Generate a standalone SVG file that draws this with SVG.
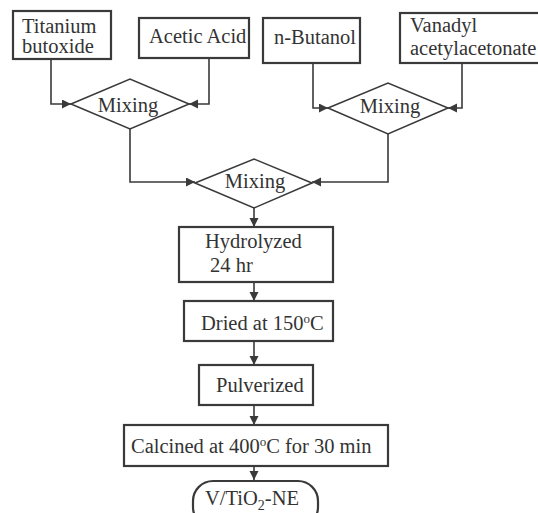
<svg xmlns="http://www.w3.org/2000/svg" width="538" height="513" viewBox="0 0 538 513">
<defs>
<marker id="ah" markerUnits="userSpaceOnUse" markerWidth="10" markerHeight="10" refX="9" refY="4.5" orient="auto">
<path d="M0,0 L9,4.5 L0,9 z" fill="#3a3a3a"/>
</marker>
<style>
.box{fill:#fff;stroke:#3a3a3a;stroke-width:2.2}
.dia{fill:#fff;stroke:#3a3a3a;stroke-width:1.6}
.t{font-family:'Liberation Serif',Tinos,'Times New Roman',Times,'DejaVu Serif',serif;font-size:20.5px;fill:#333}
.c{fill:none;stroke:#3a3a3a;stroke-width:1.6;marker-end:url(#ah)}
</style>
</defs>
<rect width="538" height="513" fill="#fff"/>
<g id="connectors">
<polyline class="c" points="51,59 51,104 71,104"/>
<polyline class="c" points="209,58 209,104 189,104"/>
<polyline class="c" points="313,63 313,108 328,108"/>
<polyline class="c" points="462,63 462,108 448,108"/>
<polyline class="c" points="130,129 130,182 195,182"/>
<polyline class="c" points="388,134 388,182 312,182"/>
<line class="c" x1="254" y1="208" x2="254" y2="227"/>
<line class="c" x1="254" y1="282" x2="254" y2="301"/>
<line class="c" x1="254" y1="341" x2="254" y2="365"/>
<line class="c" x1="254" y1="405" x2="254" y2="425"/>
<line class="c" x1="254" y1="466" x2="254" y2="480"/>
</g>
<g id="titanium">
<rect class="box" x="13" y="11" width="98" height="48"/>
<text class="t" x="22" y="33">Titanium</text>
<text class="t" x="22" y="53">butoxide</text>
</g>
<g id="acetic">
<rect class="box" x="139" y="18" width="110" height="40"/>
<text class="t" x="149" y="43">Acetic Acid</text>
</g>
<g id="butanol">
<rect class="box" x="263" y="18" width="97" height="45"/>
<text class="t" x="274" y="44">n-Butanol</text>
</g>
<g id="vanadyl">
<rect class="box" x="400" y="13" width="145" height="50"/>
<text class="t" x="410" y="32">Vanadyl</text>
<text class="t" x="410" y="55">acetylacetonate</text>
</g>
<g id="mixing1">
<polygon class="dia" points="71,104 130,79 189,104 130,129"/>
<text class="t" x="128" y="112" text-anchor="middle">Mixing</text>
</g>
<g id="mixing2">
<polygon class="dia" points="328,108 388,83 448,108 388,134"/>
<text class="t" x="390" y="113" text-anchor="middle">Mixing</text>
</g>
<g id="mixing3">
<polygon class="dia" points="195,183 254,159 312,183 254,208"/>
<text class="t" x="255" y="188" text-anchor="middle">Mixing</text>
</g>
<g id="hydrolyzed">
<rect class="box" x="179" y="227" width="154" height="55"/>
<text class="t" x="205" y="248">Hydrolyzed</text>
<text class="t" x="210" y="272">24 hr</text>
</g>
<g id="dried">
<rect class="box" x="184" y="301" width="149" height="40"/>
<text class="t" x="201" y="330">Dried at 150<tspan font-size="13" dy="-7">o</tspan><tspan dy="7">C</tspan></text>
</g>
<g id="pulverized">
<rect class="box" x="199" y="365" width="114" height="40"/>
<text class="t" x="216" y="392">Pulverized</text>
</g>
<g id="calcined">
<rect class="box" x="124" y="425" width="264" height="41"/>
<text class="t" x="131" y="453">Calcined at 400<tspan font-size="13" dy="-7">o</tspan><tspan dy="7">C for 30 min</tspan></text>
</g>
<g id="product">
<rect class="box" x="193" y="481" width="125" height="46" rx="20" ry="20"/>
<text class="t" x="205" y="505">V/TiO<tspan font-size="14" dy="5">2</tspan><tspan dy="-5">-NE</tspan></text>
</g>
</svg>
